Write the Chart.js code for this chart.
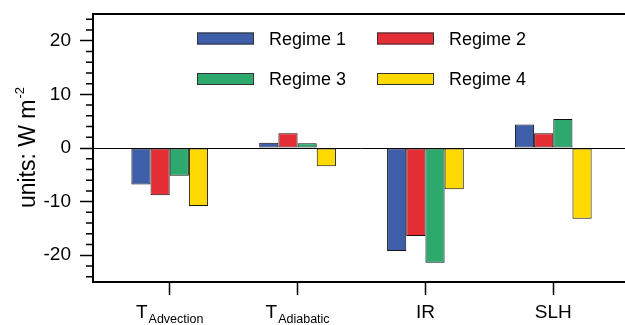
<!DOCTYPE html>
<html>
<head>
<meta charset="utf-8">
<script src="https://cdn.jsdelivr.net/npm/chart.js@4/dist/chart.umd.min.js"></script>
<style>
  body { margin: 0; overflow: hidden; background: #fff; }
  #wrap { width: 640px; height: 325px; }
</style>
</head>
<body>
<div id="wrap"><canvas id="mainChart"></canvas></div>
<script>
// Dados do gráfico
const labelMain = ['T', 'T', 'IR', 'SLH'];
const labelSub = ['Advection', 'Adiabatic', '', ''];
const regimeNames = ['Regime 1', 'Regime 2', 'Regime 3', 'Regime 4'];
const regimeColors = ['#3E5EA9', '#E52D36', '#2DA96D', '#FFD900'];

const regime1 = [-6.8, 1.0, -19.2, 4.4];
const regime2 = [-8.8, 2.75, -16.4, 2.75];
const regime3 = [-5.2, 0.9, -21.4, 5.4];
const regime4 = [-10.8, -3.4, -7.7, -13.2];

const yMajorTicks = [-20, -10, 0, 10, 20];
const yMinorStep = 2;
const yMin = -25;
const yMax = 25;

const fontFamily = 'Liberation Sans, Arial, Helvetica, sans-serif';
Chart.defaults.font.family = fontFamily;
Chart.defaults.color = '#000';

// posição de cada categoria no eixo x
const xPositions = labelMain.map((_, i) => i + 1);
const regimeValues = [regime1, regime2, regime3, regime4];

const datasets = regimeNames.map((name, k) => ({
  label: name,
  data: xPositions.map((x, i) => ({ x: x, y: regimeValues[k][i] })),
  backgroundColor: regimeColors[k],
  borderColor: '#111',
  borderWidth: 1,
  borderSkipped: false
}));

// Moldura, ticks menores, rótulos e legenda
const extrasPlugin = {
  id: 'extras',
  afterDraw(chart) {
    const ctx = chart.ctx;
    const area = chart.chartArea;
    const xs = chart.scales.x;
    const ys = chart.scales.y;
    ctx.save();

    // moldura (topo, esquerda, base)
    ctx.strokeStyle = '#000';
    ctx.lineWidth = 2;
    ctx.beginPath();
    ctx.moveTo(area.right + 20, area.top);
    ctx.lineTo(area.left, area.top);
    ctx.lineTo(area.left, area.bottom);
    ctx.lineTo(area.right + 20, area.bottom);
    ctx.stroke();

    // ticks menores
    ctx.lineWidth = 1.5;
    ctx.beginPath();
    for (let v = yMin + 1; v < yMax; v += yMinorStep) {
      if (yMajorTicks.includes(v)) continue;
      const py = ys.getPixelForValue(v);
      ctx.moveTo(area.left - 7, py);
      ctx.lineTo(area.left, py);
    }
    ctx.stroke();

    // rótulos do eixo x com subscrito
    ctx.fillStyle = '#000';
    ctx.textBaseline = 'alphabetic';
    ctx.textAlign = 'left';
    xPositions.forEach((x, i) => {
      const px = xs.getPixelForValue(x);
      ctx.font = '19px ' + fontFamily;
      const wMain = ctx.measureText(labelMain[i]).width;
      ctx.font = '12.5px ' + fontFamily;
      const wSub = labelSub[i] ? ctx.measureText(labelSub[i]).width + 1 : 0;
      const start = px - (wMain + wSub) / 2;
      ctx.font = '19px ' + fontFamily;
      ctx.fillText(labelMain[i], start, 317.5);
      if (labelSub[i]) {
        ctx.font = '12.5px ' + fontFamily;
        ctx.fillText(labelSub[i], start + wMain + 1, 322.5);
      }
    });

    // título do eixo y
    ctx.save();
    ctx.translate(34.5, (area.top + area.bottom) / 2);
    ctx.rotate(-Math.PI / 2);
    ctx.font = '23px ' + fontFamily;
    const mainTitle = 'units: W m';
    const wTitle = ctx.measureText(mainTitle).width;
    ctx.font = '13px ' + fontFamily;
    const wSup = ctx.measureText('-2').width;
    const t0 = -(wTitle + wSup) / 2;
    ctx.font = '23px ' + fontFamily;
    ctx.fillText(mainTitle, t0, 0);
    ctx.font = '13px ' + fontFamily;
    ctx.fillText('-2', t0 + wTitle + 1, -11);
    ctx.restore();

    // legenda (2 colunas)
    const colBox = [197, 377];
    const rowMid = [38.5, 79];
    ctx.font = '18px ' + fontFamily;
    regimeNames.forEach((name, k) => {
      const bx = colBox[k % 2];
      const by = rowMid[Math.floor(k / 2)];
      ctx.fillStyle = regimeColors[k];
      ctx.fillRect(bx, by - 6, 57, 12);
      ctx.strokeStyle = '#333';
      ctx.lineWidth = 1;
      ctx.strokeRect(bx + 0.5, by - 5.5, 56, 11);
      ctx.fillStyle = '#000';
      ctx.fillText(name, bx + 72, by + 6);
    });

    ctx.restore();
  }
};

const mainChart = new Chart(document.getElementById('mainChart'), {
  type: 'bar',
  data: { datasets: datasets },
  options: {
    responsive: true,
    maintainAspectRatio: false,
    devicePixelRatio: 1,
    animation: false,
    categoryPercentage: 0.6,
    barPercentage: 1.0,
    layout: { padding: { top: 14, right: 10, left: 0, bottom: 0 } },
    plugins: {
      legend: { display: false },
      tooltip: { enabled: false }
    },
    scales: {
      x: {
        type: 'linear',
        min: 0.4,
        max: 4.6,
        offset: false,
        afterBuildTicks: (scale) => { scale.ticks = xPositions.map(v => ({ value: v })); },
        afterFit: (scale) => {
          scale.height = 43;
          scale.paddingLeft = 0;
          scale.paddingRight = 0;
        },
        ticks: { display: false },
        border: { display: false },
        grid: {
          offset: false,
          drawOnChartArea: false,
          drawTicks: true,
          tickLength: 13,
          tickColor: '#000',
          tickWidth: 1.5
        }
      },
      y: {
        min: yMin,
        max: yMax,
        afterBuildTicks: (scale) => { scale.ticks = yMajorTicks.map(v => ({ value: v })); },
        afterFit: (scale) => {
          scale.width = 93;
          scale.paddingTop = 0;
          scale.paddingBottom = 0;
        },
        border: { display: false },
        ticks: { font: { size: 19 }, color: '#000', padding: 9 },
        grid: {
          color: (c) => (c.tick && c.tick.value === 0 ? '#000' : 'rgba(0,0,0,0)'),
          lineWidth: 1,
          drawTicks: true,
          tickLength: 13,
          tickColor: '#000',
          tickWidth: 1.5
        }
      }
    }
  },
  plugins: [extrasPlugin]
});
</script>
</body>
</html>
